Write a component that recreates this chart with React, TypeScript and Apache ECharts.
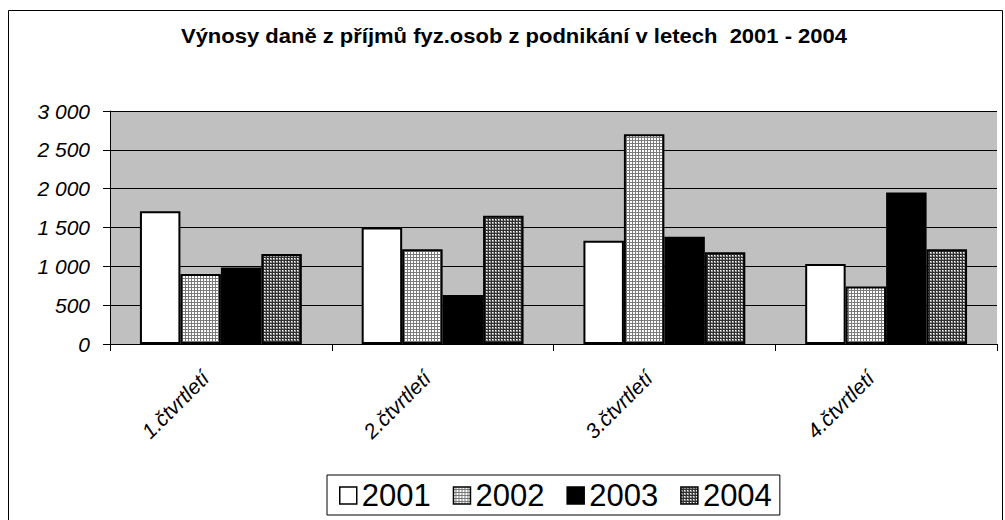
import React, { useEffect, useRef } from "react";
import * as echarts from "echarts";

const title = "Výnosy daně z příjmů fyz.osob z podnikání v letech  2001 - 2004";
const categories = ["1.čtvrtletí", "2.čtvrtletí", "3.čtvrtletí", "4.čtvrtletí"];
const seriesNames = ["2001", "2002", "2003", "2004"];
const values2001 = [1710, 1500, 1330, 1030];
const values2002 = [900, 1220, 2700, 740];
const values2003 = [985, 630, 1380, 1950];
const values2004 = [1160, 1650, 1180, 1220];
const yTicks = [0, 500, 1000, 1500, 2000, 2500, 3000];

function makePattern(kind: number): HTMLCanvasElement {
  const c = document.createElement("canvas");
  c.width = 3;
  c.height = 3;
  const ctx = c.getContext("2d")!;
  for (let x = 0; x < 3; x++) {
    for (let y = 0; y < 3; y++) {
      let col: string;
      if (kind === 0) {
        col = x === 2 || y === 2 ? "#7a7a7a" : "#ffffff";
      } else {
        if (x === 2 || y === 2) col = "#303030";
        else if (x === 0 && y === 0) col = "#ffffff";
        else col = "#9a9a9a";
      }
      ctx.fillStyle = col;
      ctx.fillRect(x, y, 1, 1);
    }
  }
  return c;
}

const fmt = (v: number) => {
  const s = String(Math.round(v));
  return s.replace(/\B(?=(\d{3})+(?!\d))/g, " ");
};

export default function App() {
  const ref = useRef<HTMLDivElement>(null);
  useEffect(() => {
    if (!ref.current) return;
    const chart = echarts.init(ref.current, undefined, { renderer: "svg" });
    const p2002 = { image: makePattern(0), repeat: "repeat" };
    const p2004 = { image: makePattern(1), repeat: "repeat" };
    const fills: any[] = ["#ffffff", p2002, "#000000", p2004];
    const data = [values2001, values2002, values2003, values2004];
    const font = "Liberation Sans";
    chart.setOption({
      animation: false,
      graphic: [
        {
          type: "rect",
          shape: { x: 8.5, y: 10.5, width: 994, height: 530 },
          style: { fill: "none", stroke: "#000", lineWidth: 1 },
          z: -10,
          silent: true,
        },
        {
          type: "text",
          x: 514,
          y: 46,
          scaleX: 1.1,
          style: {
            text: title,
            fontFamily: font,
            fontWeight: "bold",
            fontSize: 20,
            fill: "#000",
            textAlign: "center",
            textVerticalAlign: "bottom",
          },
          silent: true,
        },
      ],
      legend: {
        left: 327,
        top: 475,
        padding: [5, 8, 4, 12],
        borderColor: "#000",
        borderWidth: 1,
        itemWidth: 17,
        itemHeight: 17,
        itemGap: 22,
        icon: "rect",
        data: seriesNames,
        textStyle: { fontFamily: font, fontSize: 31, color: "#000" },
        itemStyle: { borderColor: "#000", borderWidth: 1.5 },
      },
      grid: {
        left: 110,
        right: 8,
        top: 111,
        bottom: 176,
        show: true,
        backgroundColor: "#c0c0c0",
        borderWidth: 0,
      },
      xAxis: {
        type: "category",
        data: categories,
        axisLine: { lineStyle: { color: "#000", width: 1 } },
        axisTick: { show: true, length: 7, lineStyle: { color: "#000" } },
        axisLabel: {
          rotate: 45,
          margin: 15,
          padding: [0, 22, 0, 0],
          fontFamily: font,
          fontStyle: "italic",
          fontSize: 21,
          color: "#000",
          formatter: (v: string) => `{i|${v}}`,
          rich: { i: { fontFamily: font, fontStyle: "italic", fontSize: 21, color: "#000" } },
        },
      },
      yAxis: {
        type: "value",
        min: 0,
        max: 3000,
        interval: 500,
        axisLine: { show: true, lineStyle: { color: "#000", width: 1 } },
        axisTick: { show: true, length: 7, lineStyle: { color: "#000" } },
        splitLine: { show: true, lineStyle: { color: "#000", width: 1 } },
        axisLabel: {
          margin: 20,
          fontFamily: font,
          fontStyle: "italic",
          fontSize: 21,
          color: "#000",
          formatter: (v: number) => (yTicks.includes(v) ? `{i|${fmt(v)}}` : ""),
          rich: { i: { fontFamily: font, fontStyle: "italic", fontSize: 21, color: "#000" } },
        },
      },
      series: seriesNames.map((name, i) => ({
        name,
        type: "bar",
        data: data[i],
        barGap: "0%",
        barCategoryGap: "27%",
        itemStyle: { color: fills[i], borderColor: "#000", borderWidth: 2 },
      })),
    });
    return () => chart.dispose();
  }, []);
  return (
    <div
      ref={ref}
      style={{ position: "fixed", left: 0, top: 0, width: 1005, height: 520, background: "#fff" }}
    />
  );
}
